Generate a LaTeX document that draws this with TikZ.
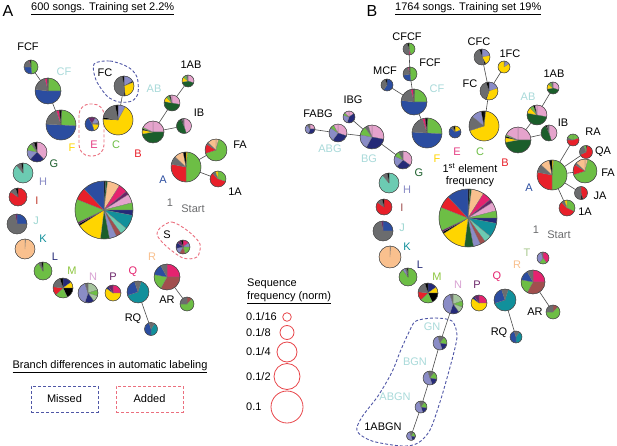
\documentclass[tikz,border=0pt]{standalone}
\usepackage{fontspec}
\setmainfont{Liberation Sans}
\definecolor{pblue}{HTML}{2B4DA0}
\definecolor{pgray}{HTML}{6B6C6E}
\definecolor{pgreen}{HTML}{6DBE45}
\definecolor{pyellow}{HTML}{FFD500}
\definecolor{plav}{HTML}{8A8CC6}
\definecolor{pdkgreen}{HTML}{1B5E2B}
\definecolor{ppink}{HTML}{E5A3CC}
\definecolor{pred}{HTML}{E8202A}
\definecolor{ppeach}{HTML}{F9C08E}
\definecolor{pmag}{HTML}{E5236F}
\definecolor{ppurple}{HTML}{6B2469}
\definecolor{pnavy}{HTML}{252A78}
\definecolor{pteal}{HTML}{11909B}
\definecolor{pmint}{HTML}{6CCBB2}
\definecolor{pbrown}{HTML}{A14F4E}
\definecolor{psage}{HTML}{A6C59E}
\definecolor{plteal}{HTML}{A9DADA}
\definecolor{lgreen}{HTML}{8DC63F}
\definecolor{lpink}{HTML}{D9A3D3}
\definecolor{ired}{HTML}{C0392B}
\definecolor{dblue}{HTML}{4F56A6}
\definecolor{dpink}{HTML}{EB6F7E}
\definecolor{legred}{HTML}{E8474C}
\definecolor{tsage}{HTML}{A9C98F}
\newcommand\pn[4]{%
  \node[pienode, minimum size={2*#3pt}] (#1) at (#2) {};
  \foreach \pe/\pc [remember=\pe as \ps (initially 0)] in {#4}{%
    \fill[\pc, draw=black!55, line width=0.2pt] (#1.center) -- ++({90-3.6*\ps}:#3pt) arc[start angle={90-3.6*\ps}, end angle={90-3.6*\pe}, radius=#3pt] -- cycle;
  }%
  \draw[black!75, line width=0.45pt] (#1.center) circle[radius=#3pt];
}
\tikzset{
  pienode/.style={circle, inner sep=0pt, outer sep=0pt},
  lbl/.style={font=\fontsize{11}{13}\selectfont, inner sep=0pt},
  ttl/.style={font=\fontsize{11}{13}\selectfont, inner sep=0pt, anchor=west},
  panel/.style={font=\fontsize{16}{18}\selectfont, inner sep=0pt},
  conn/.style={black!70, line width=0.6pt},
  missline/.style={dblue, dash pattern=on 3pt off 2pt, line width=0.9pt},
  addline/.style={dpink, dash pattern=on 3pt off 2pt, line width=0.9pt},
  missbox/.style={draw=dblue, dash pattern=on 3pt off 2pt, line width=0.9pt, text=black, minimum width=67pt, minimum height=26pt},
  addbox/.style={draw=dpink, dash pattern=on 3pt off 2pt, line width=0.9pt, text=black, minimum width=67pt, minimum height=26pt},
  legcirc/.style={circle, draw=legred, line width=0.8pt, inner sep=0pt},
}
\begin{document}
\begin{tikzpicture}[x=1pt,y=-1pt]
\fill[white] (0,0) rectangle (617,446);
\useasboundingbox (0,0) rectangle (617,446);

% ---------------- Panel A ----------------
\node[panel] (pA) at (8,11) {A};
\node[ttl] (tA) at (31,9) {\underline{600 songs. Training set 2.2\%}};

% outlines
\draw[missline] plot[smooth cycle] coordinates {(94,64) (110,61) (128,67) (137,77) (138,93) (132,101) (119,102) (107,96) (96,80)};
\draw[addline, rounded corners=11pt] (79,104) rectangle (104,156);
\draw[addline] plot[smooth cycle] coordinates {(160,228) (172,222) (188,231) (200,244) (197,257) (183,258) (166,246) (157,235)};

\pn{aFCF}{31,67}{7}{48/pgreen,75/pblue,95/pgray,97/pmag,100/black}
\pn{aCF}{48,91}{13}{1/black,25/pgreen,77/pblue,96/pgray,99/pmag,100/black}
\pn{aF}{61,125}{15}{1/black,26/pgreen,76/pblue,95/pgray,98/pmag,100/black}
\pn{aFC}{124,86}{10}{17/plav,19/black,48/pyellow,50/black,97/pgray,100/black}
\pn{aC}{118,120}{15}{8/plav,76/pyellow,78/black,97/pgray,100/black}
\pn{aE}{92,124}{7}{8/ppurple,22/plav,27/pgray,45/pyellow,92/pblue,100/ppurple}
\pn{aAB}{172,103}{8}{28/ppink,78/pdkgreen,88/pyellow,94/pgreen,97/black,100/ppink}
\pn{a1AB}{188,81}{6}{30/ppink,72/pdkgreen,86/pyellow,95/pgreen,100/pgray}
\pn{aB}{153,132}{11}{25/ppink,72/pdkgreen,78/pyellow,80/black,82/pgreen,100/ppink}
\pn{aIB}{184,126}{7.5}{45/ppink,93/pdkgreen,96/black,100/pgray}
\pn{aFA}{216,150}{11}{4/ppeach,70/pgreen,84/pred,87/pgray,100/ppeach}
\pn{aA}{186,167}{15}{2/pyellow,50/pgreen,78/pred,87/pgray,97/ppeach,100/black}
\pn{a1A}{218,179}{8}{30/pgreen,88/pred,95/pgray,100/pyellow}
\pn{aS}{183,247}{7}{15/pmag,25/plav,45/pgreen,58/pbrown,72/plav,86/pnavy,95/ppurple,100/black}
\pn{aG}{37,152}{10}{38/ppink,62/pnavy,78/plav,90/pgreen,95/pgray,100/black}
\pn{aH}{23,173}{10}{89/pmint,97/pgray,100/black}
\pn{aI}{18,197}{9}{85/pred,96/pgray,100/black}
\pn{aJ}{17,224}{10}{25/pblue,97/pgray,100/ppurple}
\pn{aK}{25,249}{10}{1/black,100/ppeach}
\pn{aL}{43,271}{9}{92/pgreen,97/pgray,100/black}
\pn{aM}{63,288}{10}{15/pnavy,25/pyellow,43/black,63/pgreen,77/pred,95/pgray,100/black}
\pn{aN}{88,293}{10}{20/psage,30/pgreen,40/psage,55/pnavy,95/plav,100/pgray}
\pn{aP}{113,293}{8}{25/pmag,85/pyellow,90/pnavy,100/ppurple}
\pn{aQ}{138,292}{11}{5/pgray,70/pteal,95/pblue,100/pgray}
\pn{aR}{167,277}{13}{25/pmag,58/pbrown,78/pgreen,92/pblue,100/pgray}
\pn{aAR}{187,304}{7}{12/pbrown,75/pgreen,100/pgray}
\pn{aRQ}{151,329}{6.5}{10/pgray,50/pteal,95/pblue,100/pgray}
\pn{aCen}{104,210}{29}{1/black,2/pdkgreen,9/ppeach,14/pmag,16/ppurple,21/ppink,25/pgreen,28/pnavy,36/pteal,40/pmint,43/pbrown,47/plav,52/pdkgreen,66/pyellow,67/black,68/ppurple,81/pgreen,88/pred,100/pblue}

\draw[conn] (aFCF) -- (aCF);
\draw[conn] (aCF) -- (aF);
\draw[conn] (aFC) -- (aC);
\draw[conn] (a1AB) -- (aAB);
\draw[conn] (aAB) -- (aB);
\draw[conn] (aIB) -- (aB);
\draw[conn] (aFA) -- (aA);
\draw[conn] (a1A) -- (aA);
\draw[conn] (aR) -- (aAR);
\draw[conn] (aQ) -- (aRQ);

\node[lbl] (laFCF) at (28,47) {FCF};
\node[lbl, text=plteal] (laCF) at (64,72) {CF};
\node[lbl] (laFC) at (105,73) {FC};
\node[lbl, text=plteal] (laAB) at (154,89) {AB};
\node[lbl] (la1AB) at (191,65) {1AB};
\node[lbl] (laIB) at (199,113) {IB};
\node[lbl, text=pyellow] (laF) at (72,148) {F};
\node[lbl, text=pmag!80!ppink] (laE) at (94,145) {E};
\node[lbl, text=pgreen] (laC) at (116,145) {C};
\node[lbl, text=pred] (laB) at (138,154) {B};
\node[lbl] (laFA) at (240,145) {FA};
\node[lbl, text=pblue] (laA) at (163,180) {A};
\node[lbl] (la1A) at (235,192) {1A};
\node[lbl, text=pgray] (la1) at (170,203) {1};
\node[lbl, text=pgray] (laStart) at (193,209) {Start};
\node[lbl] (laS) at (167,235) {S};
\node[lbl, text=pdkgreen] (laG) at (54,164) {G};
\node[lbl, text=plav] (laH) at (43,182) {H};
\node[lbl, text=ired] (laI) at (37,201) {I};
\node[lbl, text=plteal!80!pmint] (laJ) at (36,221) {J};
\node[lbl, text=pteal] (laK) at (43,239) {K};
\node[lbl, text=pnavy] (laL) at (55,257) {L};
\node[lbl, text=lgreen] (laM) at (72,271) {M};
\node[lbl, text=lpink] (laN) at (93,277) {N};
\node[lbl, text=ppurple] (laP) at (113,277) {P};
\node[lbl, text=pmag] (laQ) at (133,272) {Q};
\node[lbl, text=ppeach] (laR) at (152,257) {R};
\node[lbl] (laAR) at (167,300) {AR};
\node[lbl] (laRQ) at (133,319) {RQ};

% legends A
\node[lbl] (lbranch) at (110,367) {\underline{Branch differences in automatic labeling}};
\node[lbl, missbox] (lmiss) at (64.5,399) {Missed};
\node[lbl, addbox] (ladd) at (149.5,399) {Added};

\node[lbl, anchor=west] (lseq) at (247,284) {Sequence};
\node[lbl, anchor=west] (lfreq) at (247,298) {\underline{frequency (norm)}};
\node[legcirc, minimum size=8.6pt] (c16) at (287,317) {};
\node[legcirc, minimum size=14pt] (c8) at (287,332.5) {};
\node[legcirc, minimum size=20pt] (c4) at (287,352) {};
\node[legcirc, minimum size=26pt] (c2) at (287,376.5) {};
\node[legcirc, minimum size=32pt] (c1) at (287,407) {};
\node[lbl, anchor=west] (l16) at (246,317) {0.1/16};
\node[lbl, anchor=west] (l8) at (246,333) {0.1/8};
\node[lbl, anchor=west] (l4) at (246,352) {0.1/4};
\node[lbl, anchor=west] (l2) at (246,377) {0.1/2};
\node[lbl, anchor=west] (l1) at (246,407) {0.1};

% ---------------- Panel B ----------------
\node[panel] (pB) at (372,11) {B};
\node[ttl] (tB) at (395,9) {\underline{1764 songs. Training set 19\%}};

\draw[missline] plot[smooth cycle] coordinates {(416,321) (435,318) (452,321) (457,335) (454,352) (447,378) (440,402) (430,430) (418,443) (402,446) (372,441) (357,431) (362,417) (378,396) (392,372) (400,352) (409,332)};

\pn{bCFCF}{409,49}{6}{45/pgreen,50/pmag,95/pgray,100/black}
\pn{bFCF}{410,74}{7}{48/pgreen,72/pblue,95/pgray,98/pmag,100/black}
\pn{bMCF}{387,85}{6}{60/pblue,95/pgray,100/black}
\pn{bCF}{414,102}{13}{1/black,25/pgreen,77/pblue,96/pgray,99/pmag,100/black}
\pn{bF}{427,133}{15}{1/black,26/pgreen,76/pblue,95/pgray,98/pmag,100/black}
\pn{bE}{455,132}{6}{20/pyellow,88/pblue,95/pgray,100/black}
\pn{bC}{484,126}{15}{2/black,70/pyellow,86/pgray,97/plav,100/black}
\pn{bFC}{489,91}{9}{20/plav,55/pyellow,57/black,95/pgray,100/black}
\pn{bCFC}{482,57}{8}{22/plav,42/pyellow,45/black,95/pgray,100/black}
\pn{b1FC}{504,67}{6}{4/pgray,16/plav,100/pyellow}
\pn{bAB}{537,115}{10}{28/ppink,78/pdkgreen,88/pyellow,94/pgreen,97/black,100/ppink}
\pn{b1AB}{553,88}{6}{30/ppink,72/pdkgreen,86/pyellow,95/pgreen,100/pgray}
\pn{bB}{518,140}{13}{25/ppink,72/pdkgreen,78/pyellow,80/black,82/pgreen,100/ppink}
\pn{bIB}{549,133}{8}{45/ppink,93/pdkgreen,96/black,100/pgray}
\pn{bRA}{573,140}{6}{20/pgreen,75/pred,82/pgray,100/pgreen}
\pn{bQA}{586,152}{6.5}{3/black,68/pred,95/pgray,100/pgreen}
\pn{bFA}{585,171}{12}{4/ppeach,70/pgreen,84/pred,87/pgray,100/ppeach}
\pn{bA}{552,175}{15}{2/pyellow,50/pgreen,78/pred,87/pgray,97/ppeach,100/black}
\pn{bJA}{581,193}{6.5}{45/pred,50/black,100/pgray}
\pn{b1A}{567,208}{8}{32/pgreen,88/pred,95/pgray,100/pyellow}
\pn{bIBG}{349,117}{6}{15/ppink,55/pnavy,80/plav,88/pgreen,100/ppink}
\pn{bFABG}{310,129}{5}{25/ppink,55/pnavy,90/plav,100/pgray}
\pn{bABG}{338,133}{9}{30/ppink,60/pnavy,85/plav,92/pgreen,100/ppink}
\pn{bBG}{372,137}{12}{28/ppink,58/pnavy,78/plav,90/pgreen,95/pgray,100/ppink}
\pn{bG}{403,160}{9}{35/ppink,62/pnavy,82/plav,92/pgreen,100/pgray}
\pn{bH}{389,183}{10}{89/pmint,97/pgray,100/black}
\pn{bI}{384,207}{8}{85/pred,96/pgray,100/black}
\pn{bJ}{383,231}{10}{25/pblue,97/pgray,100/ppurple}
\pn{bK}{390,257}{11}{1/black,100/ppeach}
\pn{bL}{408,277}{9}{90/pgreen,95/plav,98/pgray,100/black}
\pn{bM}{428,293}{10}{15/pnavy,25/pyellow,43/black,63/pgreen,77/pred,95/pgray,100/black}
\pn{bN}{453,304}{10}{20/psage,30/pgreen,40/psage,55/pnavy,95/plav,100/pgray}
\pn{bP}{479,303}{8}{25/pmag,85/pyellow,90/pnavy,100/ppurple}
\pn{bQ}{505,300}{11}{5/pgray,70/pteal,95/pblue,100/pgray}
\pn{bR}{533,282}{12}{25/pmag,58/pbrown,78/pgreen,92/pblue,100/pgray}
\pn{bT}{543,258}{6}{40/pmag,60/pgreen,95/plav,100/pgray}
\pn{bAR}{553,312}{7}{12/pbrown,75/pgreen,100/pgray}
\pn{bRQ}{516,337}{6}{10/pgray,50/pteal,95/pblue,100/pgray}
\pn{bGN}{440,343}{7}{10/pgray,28/pgreen,45/pnavy,95/plav,100/pgray}
\pn{bBGN}{430,378}{7}{10/pgray,28/pgreen,45/pnavy,95/plav,100/pgray}
\pn{bABGN}{421,407}{6}{10/pgray,28/pgreen,45/pnavy,95/plav,100/pgray}
\pn{b1ABGN}{411,436}{4.5}{10/pgray,28/pgreen,45/pnavy,95/plav,100/pgray}
\pn{bCen}{468,218}{29}{1/black,2/pdkgreen,9/ppeach,14/pmag,16/ppurple,21/ppink,25/pgreen,28/pnavy,36/pteal,40/pmint,43/pbrown,47/plav,52/pdkgreen,66/pyellow,67/black,68/ppurple,81/pgreen,88/pred,100/pblue}

\draw[conn] (bCFCF) -- (bFCF);
\draw[conn] (bFCF) -- (bCF);
\draw[conn] (bMCF) -- (bCF);
\draw[conn] (bCF) -- (bF);
\draw[conn] (bCFC) -- (bFC);
\draw[conn] (b1FC) -- (bFC);
\draw[conn] (bFC) -- (bC);
\draw[conn] (b1AB) -- (bAB);
\draw[conn] (bAB) -- (bB);
\draw[conn] (bIB) -- (bB);
\draw[conn] (bFABG) -- (bABG);
\draw[conn] (bABG) -- (bBG);
\draw[conn] (bIBG) -- (bBG);
\draw[conn] (bBG) -- (bG);
\draw[conn] (bA) -- (bRA);
\draw[conn] (bA) -- (bQA);
\draw[conn] (bA) -- (bFA);
\draw[conn] (bA) -- (bJA);
\draw[conn] (bA) -- (b1A);
\draw[conn] (bR) -- (bAR);
\draw[conn] (bQ) -- (bRQ);
\draw[conn] (bN) -- (bGN);
\draw[conn] (bGN) -- (bBGN);
\draw[conn] (bBGN) -- (bABGN);
\draw[conn] (bABGN) -- (b1ABGN);

\node[lbl] (lbCFCF) at (407,37) {CFCF};
\node[lbl] (lbFCF) at (430,63) {FCF};
\node[lbl] (lbMCF) at (385,71) {MCF};
\node[lbl, text=plteal] (lbCF) at (437,89) {CF};
\node[lbl] (lbCFC) at (479,42) {CFC};
\node[lbl] (lb1FC) at (510,54) {1FC};
\node[lbl] (lbFC) at (470,84) {FC};
\node[lbl, text=plteal] (lbAB) at (528,97) {AB};
\node[lbl] (lb1AB) at (554,74) {1AB};
\node[lbl] (lbIB) at (563,123) {IB};
\node[lbl] (lbRA) at (593,132) {RA};
\node[lbl] (lbQA) at (603,152) {QA};
\node[lbl] (lbFA) at (608,173) {FA};
\node[lbl] (lbJA) at (600,196) {JA};
\node[lbl] (lb1A) at (585,212) {1A};
\node[lbl, text=pblue] (lbA) at (529,188) {A};
\node[lbl] (lbIBG) at (353,100) {IBG};
\node[lbl] (lbFABG) at (318,114) {FABG};
\node[lbl, text=plteal] (lbABG) at (330,149) {ABG};
\node[lbl, text=plteal] (lbBG) at (369,159) {BG};
\node[lbl, text=pdkgreen] (lbG) at (419,173) {G};
\node[lbl, text=pyellow] (lbF) at (437,159) {F};
\node[lbl, text=pmag!80!ppink] (lbE) at (457,152) {E};
\node[lbl, text=pgreen] (lbC) at (480,152) {C};
\node[lbl, text=pred] (lbB) at (505,163) {B};
\node[lbl] (lb1st) at (470,168) {1\textsuperscript{st} element};
\node[lbl] (lbfreq) at (470,182) {frequency};
\node[lbl, text=plav] (lbH) at (407,190) {H};
\node[lbl, text=pbrown] (lbI) at (402,208) {I};
\node[lbl, text=plteal!80!pmint] (lbJ) at (402,228) {J};
\node[lbl, text=pteal] (lbK) at (407,247) {K};
\node[lbl, text=pnavy] (lbL) at (420,265) {L};
\node[lbl, text=lgreen] (lbM) at (437,277) {M};
\node[lbl, text=lpink] (lbN) at (458,285) {N};
\node[lbl, text=ppurple] (lbP) at (477,285) {P};
\node[lbl, text=pmag] (lbQ) at (497,277) {Q};
\node[lbl, text=ppeach] (lbR) at (517,265) {R};
\node[lbl, text=tsage] (lbT) at (527,253) {T};
\node[lbl, text=pgray] (lb1) at (536,230) {1};
\node[lbl, text=pgray] (lbStart) at (559,235) {Start};
\node[lbl] (lbAR) at (535,312) {AR};
\node[lbl] (lbRQ) at (499,333) {RQ};
\node[lbl, text=plteal] (lbGN) at (432,327) {GN};
\node[lbl, text=plteal] (lbBGN) at (415,362) {BGN};
\node[lbl, text=plteal] (lbABGN) at (395,397) {ABGN};
\node[lbl] (lb1ABGN) at (383,427) {1ABGN};
\end{tikzpicture}
\end{document}
